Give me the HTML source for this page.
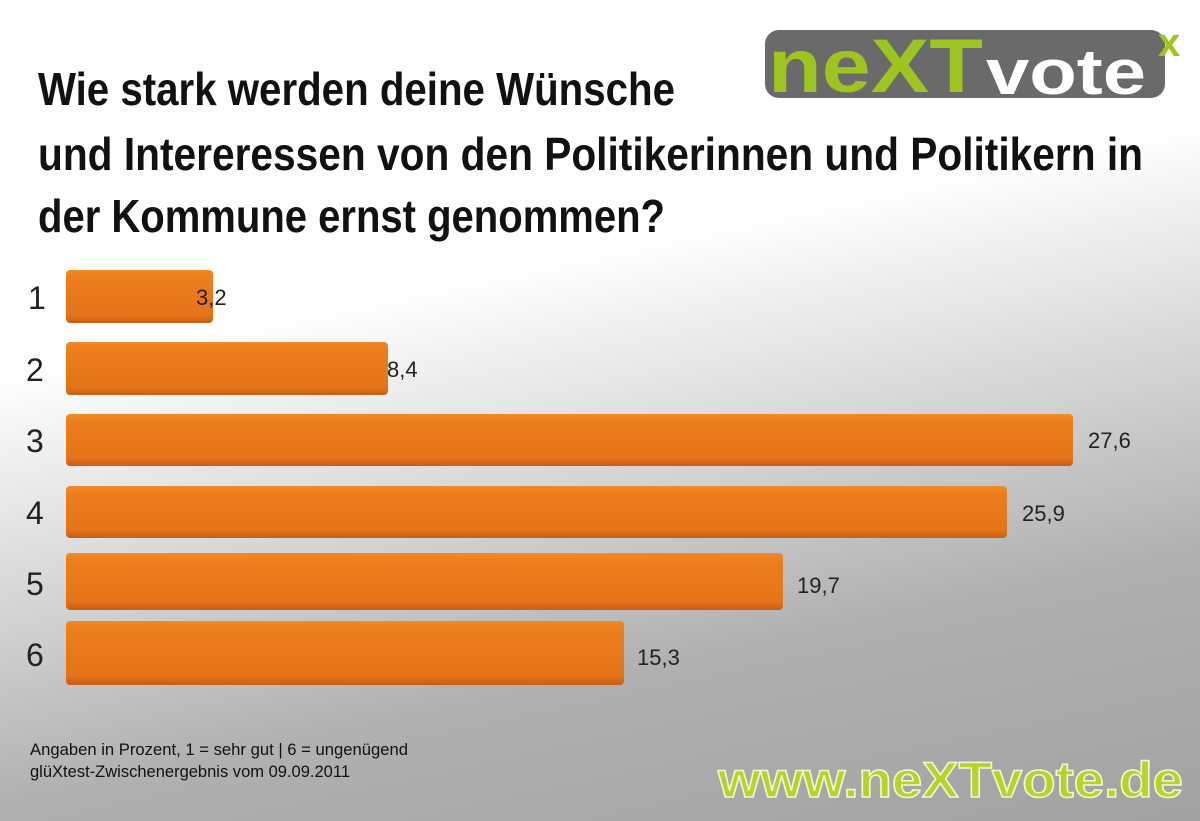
<!DOCTYPE html>
<html><head><meta charset="utf-8"><style>
html,body{margin:0;padding:0}
body{width:1200px;height:821px;overflow:hidden;background:linear-gradient(168deg,#fff 0%,#fff 35%,#d8d8d8 55%,#b0b0b0 75%,#a2a2a2 100%);}
</style></head><body>
<svg width="1200" height="821" viewBox="0 0 1200 821" xmlns="http://www.w3.org/2000/svg" style="position:absolute;left:0;top:0">
<defs>
<linearGradient id="bar" x1="0" y1="0" x2="0" y2="1">
<stop offset="0" stop-color="#f08a2a"/><stop offset="0.15" stop-color="#ec7e1c"/><stop offset="0.85" stop-color="#e5741a"/><stop offset="1" stop-color="#c85e10"/>
</linearGradient>
</defs>
<g font-family="Liberation Sans, sans-serif" font-weight="bold" fill="#111" font-size="46">
<text x="38" y="105" textLength="637" lengthAdjust="spacingAndGlyphs">Wie stark werden deine Wünsche</text>
<text x="38" y="170" textLength="1105" lengthAdjust="spacingAndGlyphs">und Intereressen von den Politikerinnen und Politikern in</text>
<text x="38" y="232" textLength="627" lengthAdjust="spacingAndGlyphs">der Kommune ernst genommen?</text>
</g>
<!-- logo -->
<rect x="765" y="30" width="400" height="68" rx="14" fill="#6a6a6a"/>
<text x="768" y="92" font-family="Liberation Sans, sans-serif" font-weight="bold" font-size="76" fill="#9dc41f" textLength="215" lengthAdjust="spacingAndGlyphs">neXT</text>
<text x="986" y="94" font-family="Liberation Sans, sans-serif" font-weight="bold" font-size="64" fill="#fff" textLength="160" lengthAdjust="spacingAndGlyphs">vote</text>
<text x="1158" y="56" font-family="Liberation Sans, sans-serif" font-weight="bold" font-size="40" fill="#9dc41f">x</text>
<!-- bars -->
<g fill="url(#bar)">
<rect x="66" y="270" width="147" height="53" rx="4"/>
<rect x="66" y="342" width="322" height="53" rx="4"/>
<rect x="66" y="414" width="1007" height="52" rx="4"/>
<rect x="66" y="486" width="941" height="52" rx="4"/>
<rect x="66" y="553" width="717" height="57" rx="4"/>
<rect x="66" y="621" width="558" height="64" rx="4"/>
</g>
<g font-family="Liberation Sans, sans-serif" font-size="32" fill="#222">
<text x="28" y="309">1</text><text x="26" y="381">2</text><text x="26" y="452">3</text>
<text x="26" y="524">4</text><text x="26" y="595">5</text><text x="26" y="666">6</text>
</g>
<g font-family="Liberation Sans, sans-serif" font-size="22" fill="#222">
<text x="196" y="305">3,2</text><text x="387" y="377">8,4</text><text x="1088" y="448">27,6</text>
<text x="1022" y="521">25,9</text><text x="797" y="593">19,7</text><text x="637" y="665">15,3</text>
</g>
<g font-family="Liberation Sans, sans-serif" font-size="17" fill="#111">
<text x="30" y="755" textLength="378" lengthAdjust="spacingAndGlyphs">Angaben in Prozent, 1 = sehr gut | 6 = ungenügend</text>
<text x="30" y="777" textLength="320" lengthAdjust="spacingAndGlyphs">glüXtest-Zwischenergebnis vom 09.09.2011</text>
</g>
<text x="718" y="797" font-family="Liberation Sans, sans-serif" font-weight="bold" font-size="50" fill="#b5d42a" stroke="#f4f8d0" stroke-width="1.5" textLength="465" lengthAdjust="spacingAndGlyphs">www.neXTvote.de</text>
</svg>
</body></html>
